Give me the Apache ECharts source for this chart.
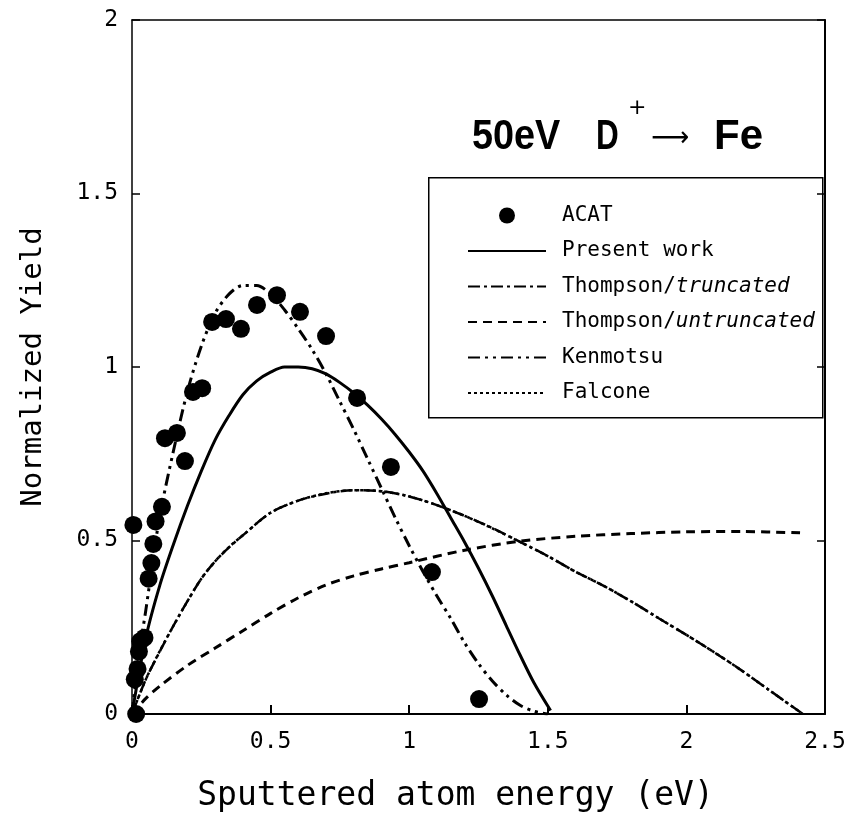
<!DOCTYPE html>
<html>
<head>
<meta charset="utf-8">
<script src="https://cdn.jsdelivr.net/npm/echarts@6/dist/echarts.min.js"></script>
<style>html,body{margin:0;padding:0;background:#fff;}#c{width:850px;height:833px;}</style>
</head>
<body>
<div id="c"></div>
<script>
// ---- data ----
const xTickValues = [0, 0.5, 1, 1.5, 2, 2.5];
const yTickValues = [0, 0.5, 1, 1.5, 2];

const acatX = [0.015, 0.01, 0.02, 0.025, 0.03, 0.045, 0.005, 0.06, 0.07, 0.077, 0.085, 0.108, 0.119, 0.162, 0.191, 0.220, 0.253, 0.289, 0.339, 0.393, 0.451, 0.523, 0.606, 0.700, 0.812, 0.934, 1.082, 1.252];
const acatY = [0, 0.1, 0.13, 0.18, 0.21, 0.22, 0.545, 0.39, 0.435, 0.49, 0.555, 0.597, 0.795, 0.81, 0.729, 0.928, 0.939, 1.13, 1.138, 1.11, 1.179, 1.207, 1.159, 1.089, 0.911, 0.712, 0.409, 0.043];

const presentX = [0, 0.05, 0.1, 0.15, 0.2, 0.25, 0.3, 0.35, 0.4, 0.45, 0.5, 0.55, 0.6, 0.65, 0.7, 0.75, 0.8, 0.85, 0.9, 0.95, 1.0, 1.05, 1.1, 1.15, 1.2, 1.25, 1.3, 1.35, 1.4, 1.45, 1.51];
const presentY = [0, 0.22, 0.37, 0.49, 0.6, 0.7, 0.79, 0.86, 0.92, 0.96, 0.985, 1.0, 1.0, 0.995, 0.98, 0.955, 0.925, 0.89, 0.85, 0.805, 0.755, 0.7, 0.635, 0.565, 0.495, 0.42, 0.34, 0.255, 0.17, 0.09, 0.01];

const kenmotsuX = [0, 0.025, 0.05, 0.075, 0.1, 0.15, 0.2, 0.25, 0.3, 0.35, 0.4, 0.45, 0.5, 0.55, 0.6, 0.65, 0.7, 0.75, 0.8, 0.85, 0.9, 0.95, 1.0, 1.05, 1.1, 1.15, 1.2, 1.25, 1.3, 1.35, 1.4, 1.45, 1.5];
const kenmotsuY = [0, 0.17, 0.3, 0.44, 0.57, 0.76, 0.93, 1.06, 1.155, 1.21, 1.235, 1.235, 1.21, 1.165, 1.11, 1.05, 0.98, 0.9, 0.82, 0.735, 0.65, 0.565, 0.485, 0.41, 0.34, 0.275, 0.205, 0.145, 0.095, 0.055, 0.025, 0.008, 0];

const truncX = [0, 0.05, 0.1, 0.15, 0.2, 0.25, 0.3, 0.35, 0.4, 0.5, 0.6, 0.7, 0.8, 0.9, 1.0, 1.1, 1.2, 1.3, 1.4, 1.5, 1.6, 1.7, 1.8, 1.9, 2.0, 2.1, 2.2, 2.3, 2.42];
const truncY = [0, 0.1, 0.18, 0.255, 0.325, 0.39, 0.44, 0.48, 0.515, 0.58, 0.615, 0.635, 0.645, 0.642, 0.627, 0.602, 0.571, 0.536, 0.496, 0.455, 0.41, 0.37, 0.325, 0.276, 0.228, 0.178, 0.125, 0.068, 0];

const falconeX = truncX;
const falconeY = [0, 0.1, 0.181, 0.255, 0.325, 0.39, 0.44, 0.481, 0.515, 0.58, 0.615, 0.636, 0.645, 0.642, 0.627, 0.602, 0.571, 0.535, 0.496, 0.455, 0.41, 0.37, 0.325, 0.276, 0.228, 0.178, 0.125, 0.068, 0];

const untruncX = [0, 0.05, 0.1, 0.2, 0.3, 0.4, 0.5, 0.6, 0.7, 0.8, 0.9, 1.0, 1.2, 1.4, 1.6, 1.8, 2.0, 2.2, 2.41];
const untruncY = [0, 0.045, 0.08, 0.14, 0.19, 0.24, 0.29, 0.335, 0.372, 0.398, 0.418, 0.436, 0.472, 0.498, 0.512, 0.52, 0.525, 0.526, 0.522];

const seriesNames = ['ACAT', 'Present work', 'Thompson/truncated', 'Thompson/untruncated', 'Kenmotsu', 'Falcone'];

function pairs(xs, ys) { return xs.map((x, i) => [x, ys[i]]); }

const MONO = "'DejaVu Sans Mono', monospace";
const TITLE_FONT = "bold 42px 'Liberation Sans', 'Arial', sans-serif";
const chart = echarts.init(document.getElementById('c'));

function lineSeries(name, xs, ys, width, dash) {
  return {
    name: name, type: 'line', data: pairs(xs, ys), smooth: 0.3,
    showSymbol: false, symbol: 'none', symbolSize: 0, clip: true,
    lineStyle: { color: '#000', width: width, type: dash, cap: 'butt' },
    itemStyle: { color: '#000' },
    z: 3
  };
}

const legendData = seriesNames.map(n => n === 'ACAT'
  ? { name: n, icon: 'circle' }
  : { name: n, itemStyle: { opacity: 0 } });

function titleText(str, x, sx) {
  return { type: 'text', x: x, y: 137, scaleX: sx, z: 10,
    style: { text: str, fill: '#000', font: TITLE_FONT, verticalAlign: 'middle', align: 'left' } };
}

chart.setOption({
  animation: false,
  backgroundColor: '#fff',
  grid: { left: 132, right: 25, top: 20, bottom: 119, show: false },
  xAxis: [{
    type: 'value', min: 0, max: 2.5, interval: 0.5, position: 'bottom',
    name: 'Sputtered atom energy (eV)', nameLocation: 'middle', nameGap: 66,
    nameTextStyle: { fontFamily: MONO, fontSize: 33, color: '#000', padding: [0, 46, 0, 0] },
    axisLine: { show: true, lineStyle: { color: '#000', width: 2 } },
    axisTick: { show: true, inside: true, length: 9, lineStyle: { color: '#000', width: 2 } },
    axisLabel: { color: '#000', fontFamily: MONO, fontSize: 23, margin: 17,
      formatter: v => String(v) },
    splitLine: { show: false }
  }, {
    type: 'value', min: 0, max: 2.5, interval: 0.5, position: 'top',
    axisLine: { show: true, onZero: false, lineStyle: { color: '#000', width: 1.5 } },
    axisTick: { show: false }, axisLabel: { show: false }, splitLine: { show: false }
  }],
  yAxis: [{
    type: 'value', min: 0, max: 2, interval: 0.5, position: 'left',
    name: 'Normalized Yield', nameLocation: 'middle', nameGap: 84,
    nameTextStyle: { fontFamily: MONO, fontSize: 29, color: '#000' },
    axisLine: { show: true, lineStyle: { color: '#000', width: 1.5 } },
    axisTick: { show: true, inside: true, length: 8, lineStyle: { color: '#000', width: 1.5 } },
    axisLabel: { color: '#000', fontFamily: MONO, fontSize: 23, margin: 14,
      formatter: v => String(v) },
    splitLine: { show: false }
  }, {
    type: 'value', min: 0, max: 2, interval: 0.5, position: 'right',
    axisLine: { show: true, onZero: false, lineStyle: { color: '#000', width: 2 } },
    axisTick: { show: true, inside: true, length: 8, lineStyle: { color: '#000', width: 1.5 } },
    axisLabel: { show: false }, splitLine: { show: false }
  }],
  legend: {
    orient: 'vertical', left: 462, top: 200,
    itemWidth: 78, itemHeight: 16, itemGap: 14.5,
    data: legendData,
    selectedMode: false,
    textStyle: {
      fontFamily: MONO, fontSize: 21, color: '#000', lineHeight: 20,
      padding: [0, 0, 0, 11],
      rich: {
        n: { fontFamily: MONO, fontSize: 21, color: '#000', lineHeight: 20 },
        i: { fontFamily: MONO, fontSize: 21, color: '#000', fontStyle: 'italic', lineHeight: 20 }
      }
    },
    formatter: function (name) {
      const k = name.indexOf('/');
      if (k >= 0) return '{n|' + name.slice(0, k) + '/}{i|' + name.slice(k + 1) + '}';
      return name;
    }
  },
  graphic: [
    { type: 'rect', left: 428, top: 177, z: 0,
      shape: { width: 394, height: 240 },
      style: { fill: '#fff', stroke: '#000', lineWidth: 1.5 } },
    titleText('50eV', 472, 0.9),
    titleText('D', 596, 0.75),
    { type: 'text', x: 628, y: 97, z: 10,
      style: { text: '+', fill: '#000', font: "22px 'DejaVu Sans', sans-serif" } },
    { type: 'text', x: 651, y: 139, scaleX: 0.95, z: 10,
      style: { text: '⟶', fill: '#000', font: "28px 'DejaVu Sans', sans-serif", verticalAlign: 'middle' } },
    titleText('Fe', 714, 1.0)
  ],
  series: [
    { name: 'ACAT', type: 'scatter', data: pairs(acatX, acatY), symbol: 'circle', symbolSize: 18,
      itemStyle: { color: '#000', opacity: 1 }, z: 5, clip: false },
    lineSeries('Present work', presentX, presentY, 3, 'solid'),
    lineSeries('Thompson/truncated', truncX, truncY, 2.5, [12, 4, 3, 4]),
    lineSeries('Thompson/untruncated', untruncX, untruncY, 3, [9, 6]),
    lineSeries('Kenmotsu', kenmotsuX, kenmotsuY, 3, [12, 5, 3, 5, 3, 5]),
    lineSeries('Falcone', falconeX, falconeY, 2.5, [3, 3])
  ]
});
</script>
</body>
</html>
